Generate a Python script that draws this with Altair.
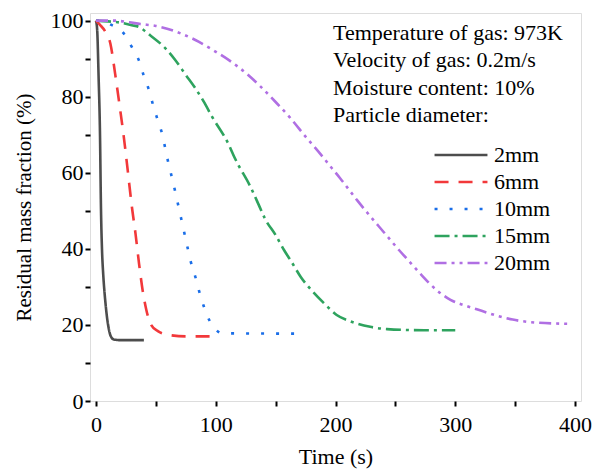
import altair as alt
import pandas as pd

# ---- data ----
SERIES = ["2mm", "6mm", "10mm", "15mm", "20mm"]

t_2mm = [0, 1, 2.2, 3.3, 4.2, 5, 6, 7, 8, 9.2, 10.5, 12, 14.7, 20, 40]
v_2mm = [100, 97.5, 85, 71, 50, 40, 33.5, 29, 25.5, 22, 19.3, 17.3, 16.2, 16, 16]

t_6mm = [0, 3, 8, 12, 16, 20, 23, 26, 30, 33, 36, 39, 42, 46, 52, 60, 75, 100]
v_6mm = [100, 99, 97, 94, 86, 77, 70, 62, 51, 44, 36, 29, 24, 20, 18.3, 17.4, 17, 17]

t_10mm = [0, 5, 12, 23, 30, 36, 40, 44.5, 48, 52, 56, 58.5, 61.5, 64.6, 67.6, 70.4,
          73.2, 76, 79, 83, 86.3, 90, 95, 100, 105, 171]
v_10mm = [100, 100, 99, 96.7, 93, 89.4, 85.4, 81.5, 77.4, 73.4, 69.3, 65.3, 61.2, 57.2,
          53, 49, 45, 41, 36.8, 32.6, 28.7, 24.9, 21, 18.8, 17.8, 17.7]

t_15mm = [0, 10, 20, 30, 36, 45, 58, 66, 75, 83, 90, 97, 111, 116, 129, 136, 141, 150,
          157, 164, 171, 180, 192, 201, 212, 229, 243, 274, 300]
v_15mm = [100, 99.8, 99.5, 98.8, 98.3, 96.2, 92.7, 89.7, 85.7, 82.2, 78.7, 74.7, 67.3,
          63.8, 56.3, 51.5, 48, 43.6, 39.7, 36.2, 32.6, 29.1, 25.2, 22.6, 21, 19.5, 18.9,
          18.6, 18.6]

t_20mm = [0, 15, 27, 37, 50, 71, 83, 99, 111, 126, 137, 150, 162, 175, 188, 197, 204,
          218, 226, 240, 253, 263, 271, 285, 296, 310, 322, 335, 348, 368, 395]
v_20mm = [100, 100, 99.6, 99.1, 98.6, 96.6, 94.9, 92.0, 89.6, 86.0, 82.8, 78.6, 74.5,
          69.5, 64.7, 61.2, 58.5, 52.8, 49.7, 44.5, 39.7, 36.2, 33.4, 29.0, 26.6, 24.9,
          23.7, 22.4, 21.4, 20.6, 20.3]

ANNOTATION_LINES = [
    "Temperature of gas: 973K",
    "Velocity of gas: 0.2m/s",
    "Moisture content: 10%",
    "Particle diameter:",
]

X_TICKS = [0, 50, 100, 150, 200, 250, 300, 350, 400]
Y_TICKS = [0, 10, 20, 30, 40, 50, 60, 70, 80, 90, 100]

# ---- styles ----
COLORS = ["#4d4d4d", "#f2383a", "#1a6ee8", "#2ea35e", "#b06fe3"]
DASHES = [[1, 0], [14, 10], [3, 12], [15, 5, 3, 5], [12, 5, 3, 5, 3, 5]]
FONT = "Liberation Serif"
FS = 22

rows = []
for name, ts, vs in zip(SERIES, [t_2mm, t_6mm, t_10mm, t_15mm, t_20mm],
                        [v_2mm, v_6mm, v_10mm, v_15mm, v_20mm]):
    for t, v in zip(ts, vs):
        rows.append({"series": name, "t": t, "v": v})
df = pd.DataFrame(rows)

x_enc = alt.X(
    "t:Q",
    scale=alt.Scale(domain=[-5, 405], nice=False, zero=False),
    axis=alt.Axis(
        title="Time (s)", values=X_TICKS,
        labelExpr="datum.value % 100 === 0 ? datum.label : ''",
        grid=False, domain=False, tickColor="black", tickWidth=2,
        tickSize=5, labelPadding=8, labelFont=FONT, labelFontSize=FS,
        labelColor="black", titleFont=FONT, titleFontSize=FS,
        titleFontWeight="normal", titleColor="black", titlePadding=11,
    ),
)
y_enc = alt.Y(
    "v:Q",
    scale=alt.Scale(domain=[0, 102], nice=False, zero=False),
    axis=alt.Axis(
        title="Residual mass fraction (%)", values=Y_TICKS,
        labelExpr="datum.value % 20 === 0 ? datum.label : ''",
        grid=False, domain=False, tickColor="black", tickWidth=2,
        tickSize=5, labelPadding=2, labelFont=FONT, labelFontSize=FS,
        labelColor="black", titleFont=FONT, titleFontSize=21,
        titleFontWeight="normal", titleColor="black", titlePadding=16,
    ),
)

legend_kw = dict(
    title=None, orient="none", legendX=343, legendY=128.5,
    symbolType="stroke", symbolSize=2800, symbolStrokeWidth=2.6,
    labelFont=FONT, labelFontSize=FS, labelColor="black",
    clipHeight=27, rowPadding=0, padding=0, labelOffset=5,
    symbolOffset=0,
)

lines = alt.Chart(df).mark_line(
    strokeWidth=2.6, interpolate="monotone", strokeCap="butt"
).encode(
    x=x_enc,
    y=y_enc,
    color=alt.Color(
        "series:N", sort=SERIES,
        scale=alt.Scale(domain=SERIES, range=COLORS),
        legend=alt.Legend(**legend_kw),
    ),
    strokeDash=alt.StrokeDash(
        "series:N", sort=SERIES,
        scale=alt.Scale(domain=SERIES, range=DASHES),
        legend=alt.Legend(**legend_kw),
    ),
    order="t:Q",
)

ann_df = pd.DataFrame({"txt": ["\n".join(ANNOTATION_LINES)]})
annotation = alt.Chart(ann_df).mark_text(
    align="left", baseline="alphabetic", font=FONT, fontSize=FS,
    lineBreak="\n", lineHeight=27.3, color="black",
).encode(
    text="txt:N",
    x=alt.value(243),
    y=alt.value(27),
)

chart = alt.layer(lines, annotation).properties(
    width=491, height=388,
    autosize=alt.AutoSizeParams(type="none"),
    padding={"left": 90, "top": 13, "right": 16, "bottom": 75},
).configure_view(
    stroke="black", strokeWidth=2.6,
).configure(background="white")

chart.save("out.html", embed_options={"renderer": "svg", "actions": False})
